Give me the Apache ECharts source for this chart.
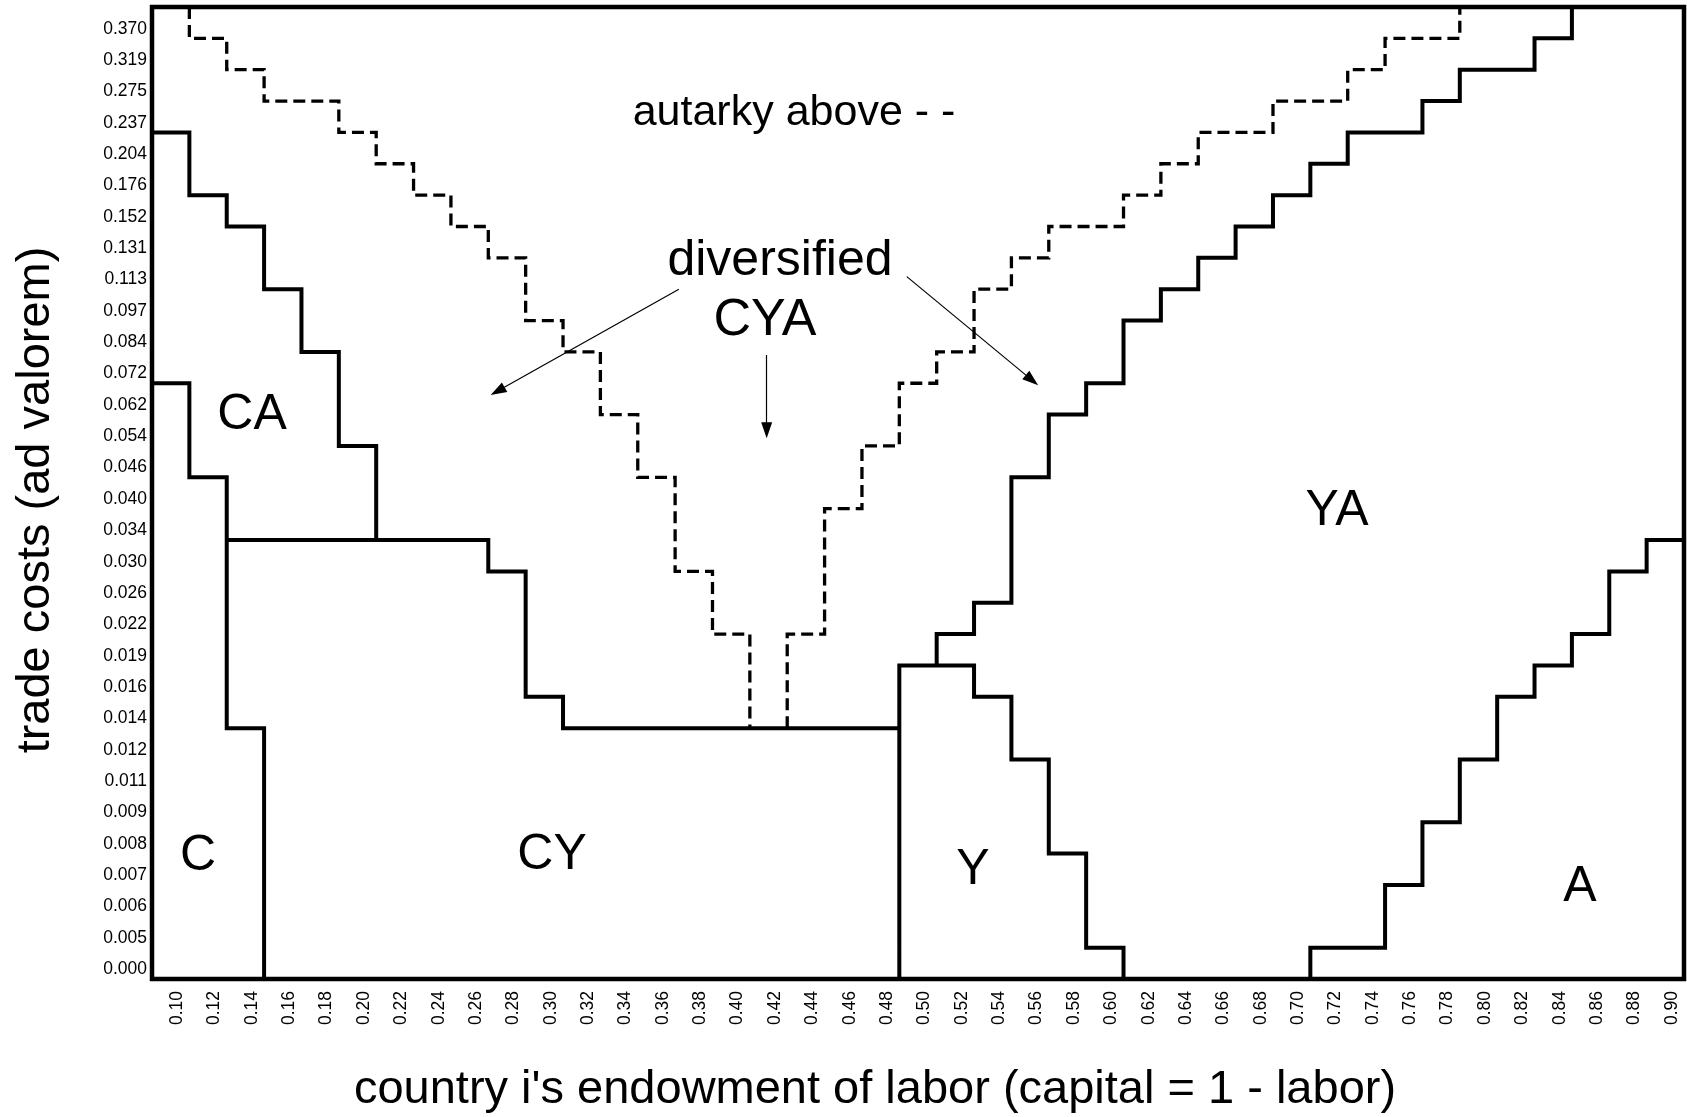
<!DOCTYPE html>
<html>
<head>
<meta charset="utf-8">
<title>trade costs vs labor endowment</title>
<script src="https://cdn.jsdelivr.net/npm/echarts@6/dist/echarts.min.js"></script>
<style>
    html, body { margin: 0; padding: 0; background: #fff; }
    #chart { width: 1687px; height: 1117px; }
</style>
</head>
<body>
<div id="chart"></div>
<script>
    // x categories: country i's endowment of labor
    var laborLabels = ['0.10','0.12','0.14','0.16','0.18','0.20','0.22','0.24','0.26','0.28',
        '0.30','0.32','0.34','0.36','0.38','0.40','0.42','0.44','0.46','0.48',
        '0.50','0.52','0.54','0.56','0.58','0.60','0.62','0.64','0.66','0.68',
        '0.70','0.72','0.74','0.76','0.78','0.80','0.82','0.84','0.86','0.88','0.90'];
    // y categories: trade costs, bottom to top
    var costLabels = ['0.000','0.005','0.006','0.007','0.008','0.009','0.011','0.012','0.014','0.016',
        '0.019','0.022','0.026','0.030','0.034','0.040','0.046','0.054','0.062','0.072',
        '0.084','0.097','0.113','0.131','0.152','0.176','0.204','0.237','0.275','0.319','0.370'];

    // region borders as [labor, level] steps (level = band edge on cost axis, 0 bottom .. 31 top)
    var cEdge = [[0.09,19],[0.11,16],[0.13,8],[0.15,0]];
    var caEdge = [[0.09,27],[0.11,25],[0.13,24],[0.15,22],[0.17,20],[0.19,17],[0.21,14]];
    var cyEdge = [[0.13,14],[0.27,13],[0.29,9],[0.31,8],[0.49,8]];
    var yEdge = [[0.49,0],[0.49,10],[0.53,9],[0.55,7],[0.57,4],[0.59,1],[0.61,0]];
    var yaEdge = [[0.51,10],[0.51,11],[0.53,12],[0.55,16],[0.57,18],[0.59,19],[0.61,21],[0.63,22],
        [0.65,23],[0.67,24],[0.69,25],[0.71,26],[0.73,27],[0.77,28],[0.79,29],[0.83,30],[0.85,31]];
    var aEdge = [[0.71,0],[0.71,1],[0.75,3],[0.77,5],[0.79,7],[0.81,9],[0.83,10],[0.85,11],
        [0.87,13],[0.89,14],[0.91,14]];
    // autarky border (dashed)
    var autarkyLeft = [[0.11,31],[0.11,30],[0.13,29],[0.15,28],[0.19,27],[0.21,26],[0.23,25],[0.25,24],
        [0.27,23],[0.29,21],[0.31,20],[0.33,18],[0.35,16],[0.37,13],[0.39,11],[0.41,8]];
    var autarkyRight = [[0.43,8],[0.43,11],[0.45,15],[0.47,17],[0.49,19],[0.51,20],[0.53,22],[0.55,23],
        [0.57,24],[0.61,25],[0.63,26],[0.65,27],[0.69,28],[0.73,29],[0.75,30],[0.79,31]];

    // "diversified" arrows, start and tip in the same units
    var arrowFrom = [[0.372,22.0],[0.419,19.9],[0.494,22.4]];
    var arrowTo = [[0.275,18.75],[0.419,17.5],[0.561,19.1]];

    var font = '"Liberation Sans", Arial, Helvetica, sans-serif';

    function edge(data, dashed) {
        return {
            type: 'line',
            xAxisIndex: 1,
            yAxisIndex: 1,
            data: data,
            step: 'end',
            symbol: 'none',
            silent: true,
            lineStyle: {
                color: '#000',
                width: dashed ? 3.3 : 4,
                type: dashed ? [12, 6] : 'solid',
                join: 'miter'
            }
        };
    }

    function label(text, x, y, size) {
        return {
            type: 'text', x: x, y: y,
            style: {
                text: text, fill: '#000', fontSize: size, fontFamily: font,
                align: 'center', verticalAlign: 'middle',
                textAlign: 'center', textVerticalAlign: 'middle'
            }
        };
    }

    var arrows = arrowFrom.map(function (p, i) {
        return [{ coord: p }, { coord: arrowTo[i] }];
    });

    var chart = echarts.init(document.getElementById('chart'));
    chart.setOption({
        animation: false,
        backgroundColor: '#fff',
        grid: {
            left: 152, top: 7, width: 1532, height: 972,
            show: true, borderColor: '#000', borderWidth: 4.5,
            outerBoundsMode: 'none'
        },
        xAxis: [
            {
                type: 'category',
                data: laborLabels,
                boundaryGap: true,
                axisLine: { show: false },
                axisTick: { show: false },
                splitLine: { show: false },
                axisLabel: {
                    interval: 0, rotate: 90, margin: 12,
                    fontSize: 17.5, fontFamily: font, color: '#000',
                    verticalAlign: 'top', lineHeight: 13
                }
            },
            { type: 'value', min: 0.09, max: 0.91, show: false }
        ],
        yAxis: [
            {
                type: 'category',
                data: costLabels,
                boundaryGap: true,
                axisLine: { show: false },
                axisTick: { show: false },
                splitLine: { show: false },
                axisLabel: {
                    interval: 0, margin: 5,
                    fontSize: 17.5, fontFamily: font, color: '#000',
                    verticalAlign: 'top', lineHeight: 12
                }
            },
            { type: 'value', min: 0, max: 31, show: false }
        ],
        series: [
            edge(cEdge), edge(caEdge), edge(cyEdge), edge(yEdge), edge(yaEdge), edge(aEdge),
            edge(autarkyLeft, true), edge(autarkyRight, true),
            {
                type: 'line',
                xAxisIndex: 1,
                yAxisIndex: 1,
                data: [],
                silent: true,
                markLine: {
                    silent: true,
                    symbol: ['none', 'triangle'],
                    symbolSize: [11, 16],
                    label: { show: false },
                    lineStyle: { color: '#000', width: 1.2, type: 'solid' },
                    data: arrows
                }
            }
        ],
        graphic: [
            label('autarky above - -', 794, 113, 43),
            label('diversified', 780, 261, 50),
            label('CYA', 765, 321, 52),
            label('CA', 252, 415, 50),
            label('C', 198, 856, 50),
            label('CY', 552, 855, 50),
            label('Y', 973, 870, 50),
            label('YA', 1337, 511, 50),
            label('A', 1580, 887, 50),
            label('country i\'s endowment of labor (capital = 1 - labor)', 875, 1090, 47),
            {
                type: 'text', x: 36, y: 500, rotation: Math.PI / 2,
                style: {
                    text: 'trade costs (ad valorem)', fill: '#000', fontSize: 47, fontFamily: font,
                    align: 'center', verticalAlign: 'middle',
                    textAlign: 'center', textVerticalAlign: 'middle'
                }
            }
        ]
    });
</script>
</body>
</html>
